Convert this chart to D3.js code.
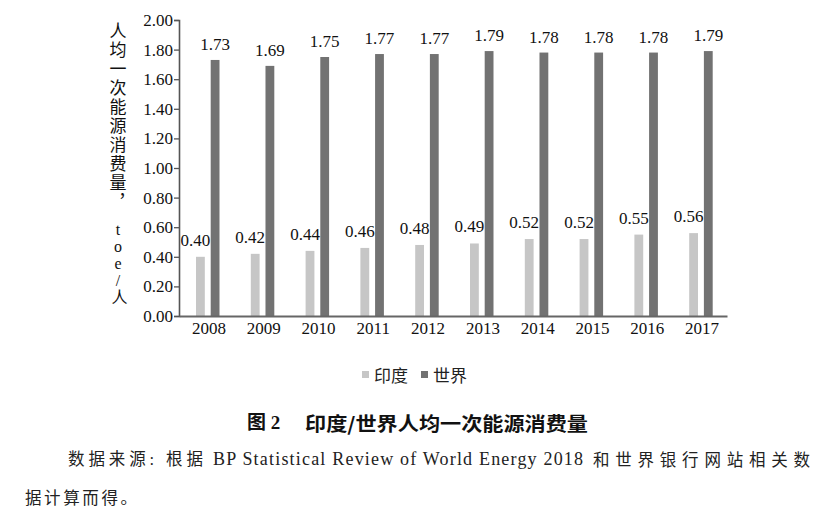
<!DOCTYPE html>
<html>
<head>
<meta charset="utf-8">
<script src="https://cdn.jsdelivr.net/npm/d3@7"></script>
<style>
  body { margin: 0; background: #fff; }
  svg { display: block; }
</style>
</head>
<body>
<div id="chart"></div>
<script>
const years = ["2008", "2009", "2010", "2011", "2012", "2013", "2014", "2015", "2016", "2017"];
const india = [0.40, 0.42, 0.44, 0.46, 0.48, 0.49, 0.52, 0.52, 0.55, 0.56];
const world = [1.73, 1.69, 1.75, 1.77, 1.77, 1.79, 1.78, 1.78, 1.78, 1.79];
const seriesNames = ["印度", "世界"];
const yTicks = [0, 0.2, 0.4, 0.6, 0.8, 1.0, 1.2, 1.4, 1.6, 1.8, 2.0];

const width = 830;
const height = 520;
const lightGray = "#c6c6c6";
const darkGray = "#727272";
const serif = "'Liberation Serif', 'DejaVu Serif', serif";
const cjk = "'Noto Sans CJK SC', sans-serif";
const mixed = "'Liberation Serif', 'Noto Sans CJK SC', serif";

const svg = d3
  .select("#chart")
  .append("svg")
  .attr("width", width)
  .attr("height", height);

const x0 = d3.scaleBand().domain(years).range([179, 727]);
const x1 = d3.scaleBand().domain(seriesNames).range([17, 40.5]).paddingInner(0.4);
const y = d3.scaleLinear().domain([0, 2]).range([316, 20]);
const color = d3.scaleOrdinal().domain(seriesNames).range([lightGray, darkGray]);

const rows = years.map((yr, i) => ({ year: yr, values: [india[i], world[i]] }));

// bars
const groups = svg
  .append("g")
  .selectAll("g")
  .data(rows)
  .enter()
  .append("g")
  .attr("transform", (d) => `translate(${x0(d.year)},0)`);

groups
  .selectAll("rect")
  .data((d) => d.values.map((v, k) => ({ name: seriesNames[k], value: v })))
  .enter()
  .append("rect")
  .attr("x", (d) => x1(d.name))
  .attr("y", (d) => y(d.value))
  .attr("width", x1.bandwidth())
  .attr("height", (d) => y(0) - y(d.value))
  .attr("fill", (d) => color(d.name));

// value labels
groups
  .selectAll("text")
  .data((d) => d.values.map((v, k) => ({ name: seriesNames[k], value: v })))
  .enter()
  .append("text")
  .attr("x", (d) => x1(d.name) + x1.bandwidth() / 2 + (d.name === "印度" ? -5 : 0))
  .attr("y", (d) => y(d.value) - (d.name === "印度" ? 11 : 10))
  .attr("text-anchor", "middle")
  .attr("font-family", serif)
  .attr("font-size", 17)
  .attr("fill", "#111")
  .text((d) => d.value.toFixed(2));

// y axis
const yAxis = svg
  .append("g")
  .attr("transform", "translate(179,0)")
  .call(
    d3.axisLeft(y).tickValues(yTicks).tickSize(5).tickPadding(1).tickFormat(d3.format(".2f"))
  );
yAxis.select(".domain").attr("stroke", "#555").attr("stroke-width", 1.6);
yAxis.selectAll(".tick line").attr("stroke", "#555").attr("stroke-width", 1.3);
yAxis
  .selectAll(".tick text")
  .attr("font-family", serif)
  .attr("font-size", 17)
  .attr("fill", "#111");

// x axis
const xAxis = svg
  .append("g")
  .attr("transform", "translate(0,316)")
  .call(d3.axisBottom(x0).tickSize(0).tickPadding(6));
xAxis.select(".domain").attr("stroke", "#666").attr("stroke-width", 1.8);
xAxis
  .selectAll(".tick text")
  .attr("dx", 2.5)
  .attr("font-family", serif)
  .attr("font-size", 17)
  .attr("fill", "#111");

// vertical y axis title
svg
  .append("text")
  .attr("x", 118)
  .attr("y", 22.5)
  .style("writing-mode", "vertical-rl")
  .style("text-orientation", "upright")
  .attr("font-family", cjk)
  .attr("font-size", 17)
  .attr("letter-spacing", 2)
  .attr("fill", "#111")
  .text("人均一次能源消费量，");
svg
  .append("text")
  .attr("x", 118)
  .attr("y", 221)
  .style("writing-mode", "vertical-rl")
  .style("text-orientation", "upright")
  .attr("font-family", mixed)
  .attr("font-size", 16)
  .attr("fill", "#111")
  .text("toe/人");

// legend
const legendX = [362, 421];
const legend = svg
  .append("g")
  .selectAll("g")
  .data(seriesNames)
  .enter()
  .append("g")
  .attr("transform", (d, i) => `translate(${legendX[i]},374)`);
legend
  .append("rect")
  .attr("x", 0)
  .attr("y", -3)
  .attr("width", 7)
  .attr("height", 7)
  .attr("fill", (d) => color(d));
legend
  .append("text")
  .attr("x", 12)
  .attr("y", 0)
  .attr("dominant-baseline", "central")
  .attr("font-family", cjk)
  .attr("font-size", 17)
  .attr("fill", "#222")
  .text((d) => d);

// figure title
svg
  .append("text")
  .attr("x", 247)
  .attr("y", 422)
  .attr("dominant-baseline", "central")
  .attr("font-family", mixed)
  .attr("font-weight", "bold")
  .attr("font-size", 19)
  .attr("fill", "#111")
  .text("图 2");
svg
  .append("text")
  .attr("x", 305)
  .attr("y", 422)
  .attr("dominant-baseline", "central")
  .attr("font-family", cjk)
  .attr("font-weight", "bold")
  .attr("font-size", 19)
  .attr("fill", "#111")
  .attr("textLength", 283)
  .attr("lengthAdjust", "spacingAndGlyphs")
  .text("印度/世界人均一次能源消费量");

// source note, split so the Latin run keeps its own spacing
const notePieces = [
  { text: "数据来源: 根据", x: 68, len: 135, font: mixed },
  { text: "BP Statistical Review of World Energy 2018", x: 213, len: 370, font: serif },
  { text: "和世界银行网站相关数", x: 593, len: 217, font: cjk },
  { text: "据计算而得。", x: 25, len: 112, font: cjk, line: 2 },
];
svg
  .append("g")
  .selectAll("text")
  .data(notePieces)
  .enter()
  .append("text")
  .attr("x", (d) => d.x)
  .attr("y", (d) => (d.line === 2 ? 497 : 459))
  .attr("dominant-baseline", "central")
  .attr("font-family", (d) => d.font)
  .attr("font-size", (d) => (d.font === serif ? 18 : 16.5))
  .attr("fill", "#222")
  .attr("textLength", (d) => d.len)
  .attr("lengthAdjust", "spacing")
  .text((d) => d.text);
</script>
</body>
</html>
